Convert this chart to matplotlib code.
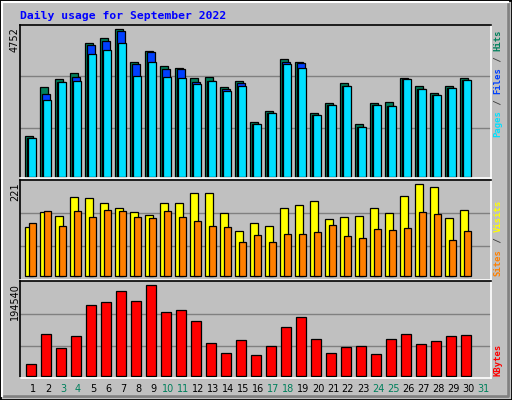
import matplotlib
matplotlib.use("Agg")
import matplotlib.pyplot as plt
from matplotlib.patches import Rectangle
import numpy as np

days = list(range(1, 31))
all_days = list(range(1, 32))
weekend = [3, 4, 10, 11, 17, 18, 24, 25, 31]

hits = [1301, 2881, 3139, 3333, 4300, 4461, 4752, 3687, 4042, 3558, 3494, 3171, 3204, 2881, 3075,
        1752, 2107, 3784, 3687, 2043, 2365, 3010, 1688, 2365, 2397, 3171, 2913, 2688, 2913, 3171]
files = [1236, 2666, 3042, 3204, 4236, 4365, 4687, 3623, 4010, 3462, 3462, 3042, 3075, 2817, 3010,
         1688, 2043, 3687, 3655, 1978, 2301, 2913, 1591, 2301, 2268, 3139, 2817, 2623, 2849, 3107]
pages = [1236, 2462, 3042, 3075, 3945, 4074, 4300, 3236, 3687, 3204, 3171, 2978, 3075, 2752, 2913,
         1688, 2043, 3623, 3494, 1978, 2301, 2913, 1591, 2301, 2268, 3139, 2817, 2623, 2849, 3107]
visits = [118, 154, 144, 190, 187, 175, 163, 154, 147, 175, 175, 199, 199, 151, 108,
          127, 120, 163, 171, 180, 137, 142, 144, 163, 151, 192, 221, 214, 139, 159]
sites = [127, 156, 120, 156, 142, 159, 156, 142, 139, 156, 142, 132, 120, 118, 82,
         98, 82, 101, 101, 106, 123, 96, 91, 113, 110, 115, 154, 149, 86, 108]
kbytes = [34, 127, 82, 121, 214, 223, 256, 226, 274, 193, 199, 166, 97, 67, 106,
          61, 88, 148, 178, 109, 67, 85, 88, 64, 112, 127, 94, 103, 121, 124]
kbytes = [k * 710 for k in kbytes]

W, H = 512, 400
BG = '#c0c0c0'
GRID = '#808080'

fig = plt.figure(figsize=(W / 100, H / 100), dpi=100)
fig.patch.set_facecolor(BG)

def fx(px):
    return px / W

def fy(py):
    return 1 - py / H

# outer bevel frame
fig.add_artist(Rectangle((0, 0), 1, 1, transform=fig.transFigure, fill=False, ec='black', lw=2))
fig.add_artist(Rectangle((fx(2), fy(396)), fx(508) - fx(2), fy(2) - fy(396),
                         transform=fig.transFigure, fill=False, ec='white', lw=1.5))
fig.add_artist(plt.Line2D([fx(4), fx(508), fx(508)], [fy(396), fy(396), fy(4)],
                          transform=fig.transFigure, color='#808080', lw=2))

def panel(top, bottom):
    ax = fig.add_axes([fx(20), fy(bottom), fx(491) - fx(20), fy(top) - fy(bottom)])
    ax.set_facecolor(BG)
    ax.set_xlim(1 - 5 / 15, 1 - 5 / 15 + 471 / 15)
    ax.set_xticks([])
    ax.set_yticks([])
    ax.spines['left'].set_color('black')
    ax.spines['top'].set_color('black')
    ax.spines['right'].set_color('white')
    ax.spines['bottom'].set_color('white')
    for s in ax.spines.values():
        s.set_linewidth(1.2)
    return ax

d = np.array(days, dtype=float)
kw = dict(align='edge', edgecolor='black', linewidth=0.9)

# hits / files / pages
ax1 = panel(25, 178)
ax1.set_ylim(-42, 4894)
for g in (1587, 3239):
    ax1.axhline(g, color=GRID, lw=1, zorder=0)
ax1.bar(d, hits, 8 / 15, color='#00805c', **kw)
ax1.bar(d + 2 / 15, files, 8 / 15, color='#0040ff', **kw)
ax1.bar(d + 3 / 15, pages, 8 / 15, color='#00e0ff', **kw)

# visits / sites
ax2 = panel(180, 280)
ax2.set_ylim(-9.6, 230.6)
for g in (72.1, 151.3):
    ax2.axhline(g, color=GRID, lw=1, zorder=0)
ax2.bar(d, visits, 8 / 15, color='#ffff00', **kw)
ax2.bar(d + 4 / 15, sites, 7 / 15, color='#ff8000', **kw)

# kbytes
ax3 = panel(281, 377.5)
ax3.set_ylim(-4257, 203040)
for g in (62560, 132800):
    ax3.axhline(g, color=GRID, lw=1, zorder=0)
ax3.bar(d + 1.3 / 15, kbytes, 10 / 15, color='#ff0000', **kw)

mono = 'DejaVu Sans Mono'
fig.text(fx(20), fy(16), 'Daily usage for September 2022', color='#0000ff',
         fontfamily=mono, fontweight='bold', fontsize=8.2, va='center', ha='left')

for val, top in ((max(hits), 27), (max(visits), 182), (max(kbytes), 283)):
    fig.text(fx(15), fy(top), str(val), rotation=90, rotation_mode='anchor',
             ha='right', va='center', fontsize=7, color='black')

def side_label(parts, start_py, step):
    pos = 0
    for txt, col in parts:
        fig.text(fx(498), fy(start_py - pos * step), txt, rotation=90, rotation_mode='anchor',
                 ha='left', va='center', fontfamily=mono, fontweight='bold',
                 fontsize=6.4, color=col)
        pos += len(txt)

side_label([('Pages', '#00e0ff'), (' / ', '#404040'), ('Files', '#0040ff'),
            (' / ', '#404040'), ('Hits', '#00805c')], 137, 5.4)
side_label([('Sites', '#ff8000'), (' / ', '#404040'), ('Visits', '#ffff00')], 276, 5.5)
side_label([('KBytes', '#ff0000')], 376, 5.6)

for day in all_days:
    col = '#00805c' if day in weekend else 'black'
    fig.text(fx(25 + 15 * (day - 1) + 8), fy(389), str(day), ha='center', va='center',
             fontsize=7, color=col)

fig.savefig('out.png', dpi=100, facecolor=BG)
